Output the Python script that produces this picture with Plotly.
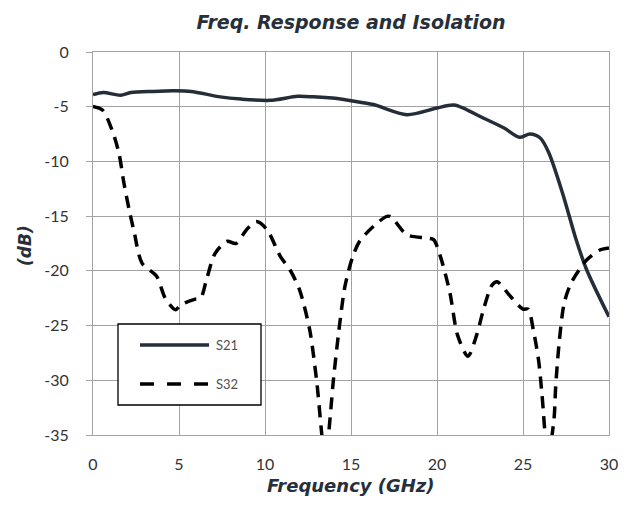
import plotly.graph_objects as go

# S21 (frequency response)
s21_freq = [0, 0.6, 1.6, 2.2, 3.5, 4.7, 5.7, 7.4, 8.6, 10.3, 11.9, 12.8, 14.4, 15.0, 16.3, 18.25, 20.0, 21.0, 22.7, 23.9, 24.8, 25.4, 26.0, 26.5, 27.3, 28.1, 28.7, 30.0]
s21_db = [-3.9, -3.7, -3.95, -3.7, -3.6, -3.55, -3.6, -4.1, -4.3, -4.42, -4.05, -4.1, -4.3, -4.45, -4.8, -5.73, -5.12, -4.85, -6.04, -6.95, -7.8, -7.5, -7.86, -9.2, -12.9, -17.2, -19.9, -24.2]

# S32 (isolation)
s32_freq = [0, 0.55, 1.1, 1.5, 1.8, 2.1, 2.4, 2.85, 3.7, 4.2, 4.8, 5.1, 5.9, 6.25, 6.6, 7.1, 7.8, 8.3, 8.95, 9.5, 10.1, 10.9, 11.45, 12.0, 12.6, 13.0, 13.5, 14.0, 14.3, 14.65, 15.1, 15.5, 16.3, 17.2, 18.25, 19.4, 19.8, 20.2, 20.75, 21.2, 21.8, 22.3, 22.7, 23.2, 23.5, 24.25, 25.0, 25.3, 25.6, 25.9, 26.1, 26.45, 26.8, 26.9, 27.1, 27.4, 27.8, 28.4, 28.7, 29.5, 30.0]
s32_db = [-4.97, -5.3, -7.1, -9.2, -12.0, -14.4, -16.5, -19.3, -20.5, -22.5, -23.55, -23.1, -22.6, -22.5, -20.8, -18.4, -17.3, -17.5, -16.2, -15.5, -16.2, -18.7, -19.9, -21.7, -25.4, -30.0, -37.0, -29.6, -25.4, -21.4, -18.7, -17.3, -15.95, -15.0, -16.7, -17.0, -17.15, -18.7, -22.0, -25.9, -27.8, -25.9, -23.55, -21.3, -21.0, -22.3, -23.5, -23.5, -25.4, -28.1, -31.2, -37.0, -33.6, -30.6, -26.6, -22.9, -21.1, -19.6, -19.0, -18.07, -17.9]

x_ticks = [0, 5, 10, 15, 20, 25, 30]
y_ticks = [0, -5, -10, -15, -20, -25, -30, -35]

S21_COLOR = "#252d38"
S32_COLOR = "#000000"
GRID = "#a3a3a3"

fig = go.Figure()
fig.add_trace(go.Scatter(x=s21_freq, y=s21_db, mode="lines", name="S21",
                         line=dict(color=S21_COLOR, width=3.5, shape="spline", smoothing=0.8),
                         showlegend=False))
fig.add_trace(go.Scatter(x=s32_freq, y=s32_db, mode="lines", name="S32",
                         line=dict(color=S32_COLOR, width=3.5, shape="spline", smoothing=0.8, dash="12px,8px"),
                         showlegend=False))

OFF = 8  # default page body margin
W, H = 632 - OFF, 510 - OFF
L, R, T, B = 93 - OFF, 23, 52 - OFF, 75
pw, ph = W - L - R, H - T - B

def px_to_paper(x, y):
    # x, y are page pixel coords
    return (x - OFF - L) / pw, 1 - (y - OFF - T) / ph

x0, y0 = px_to_paper(118, 405)
x1, y1 = px_to_paper(261, 324)
shapes = [dict(type="rect", xref="paper", yref="paper", x0=x0, y0=y0, x1=x1, y1=y1,
               line=dict(color="#000000", width=1.3), fillcolor="white", layer="above")]
lx0, ly_a = px_to_paper(140, 345)
lx1, ly_b = px_to_paper(209, 384)
shapes.append(dict(type="line", xref="paper", yref="paper", x0=lx0, x1=lx1, y0=ly_a, y1=ly_a,
                   line=dict(color=S21_COLOR, width=3.5), layer="above"))
shapes.append(dict(type="line", xref="paper", yref="paper", x0=lx0, x1=lx1, y0=ly_b, y1=ly_b,
                   line=dict(color=S32_COLOR, width=3.5, dash="14px,13px"), layer="above"))

tx, _ = px_to_paper(214, 0)
annotations = [
    dict(x=tx, y=ly_a, xref="paper", yref="paper", text="S21", showarrow=False,
         xanchor="left", yanchor="middle",
         font=dict(family="Lato, sans-serif", size=13, color="#505050")),
    dict(x=tx, y=ly_b, xref="paper", yref="paper", text="S32", showarrow=False,
         xanchor="left", yanchor="middle",
         font=dict(family="Lato, sans-serif", size=13, color="#505050")),
    dict(x=px_to_paper(25, 0)[0], y=px_to_paper(0, 246)[1], xref="paper", yref="paper",
         text="<b><i>(dB)</i></b>", showarrow=False, textangle=-90,
         xanchor="center", yanchor="middle",
         font=dict(family="DejaVu Sans, sans-serif", size=17, color="#262f3a")),
    dict(x=0.5, y=px_to_paper(0, 485)[1], xref="paper", yref="paper",
         text="<b><i>Frequency (GHz)</i></b>", showarrow=False,
         xanchor="center", yanchor="middle",
         font=dict(family="DejaVu Sans, sans-serif", size=18, color="#262f3a")),
]

fig.update_layout(
    width=W, height=H,
    margin=dict(l=L, r=R, t=T, b=B, pad=0),
    paper_bgcolor="white", plot_bgcolor="white",
    title=dict(text="<b><i>Freq. Response and Isolation</i></b>", x=0.5, xref="paper", xanchor="center",
               y=1 - (22 - OFF) / H, yanchor="middle",
               font=dict(family="DejaVu Sans, sans-serif", size=19, color="#262f3a")),
    xaxis=dict(range=[0, 30], tickvals=x_ticks, ticktext=[str(v) for v in x_ticks],
               showgrid=True, gridcolor=GRID, gridwidth=1, zeroline=False,
               showline=True, linecolor=GRID, linewidth=1, mirror=True,
               ticks="", tickfont=dict(family="Lato, sans-serif", size=16, color="#333333"),
               ticklabelstandoff=15),
    yaxis=dict(range=[-35, 0], tickvals=y_ticks, ticktext=[str(v) for v in y_ticks],
               showgrid=True, gridcolor=GRID, gridwidth=1, zeroline=False,
               showline=True, linecolor=GRID, linewidth=1, mirror=True,
               ticks="outside", ticklen=6, tickcolor=GRID, tickwidth=1,
               tickfont=dict(family="Lato, sans-serif", size=16, color="#333333"),
               ticklabelstandoff=14),
    shapes=shapes,
    annotations=annotations,
)

fig.write_html("out.html")
